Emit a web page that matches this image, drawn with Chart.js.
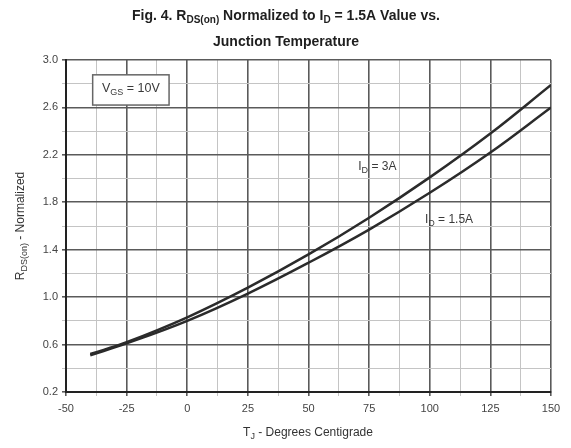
<!DOCTYPE html>
<html>
<head>
<meta charset="utf-8">
<script src="https://cdn.jsdelivr.net/npm/chart.js@4"></script>
<style>
  html, body { margin: 0; padding: 0; background: #fff; }
  #wrap { width: 571px; height: 448px; }
</style>
</head>
<body>
<div id="wrap"><canvas id="chart" width="571" height="448"></canvas></div>
<script>
// Junction temperature (deg C) and normalized RDS(on)
const temps = [-40, -25, 0, 25, 50, 75, 100, 125, 150];
const rds3A = [0.52, 0.62, 0.83, 1.08, 1.36, 1.67, 2.01, 2.38, 2.79];
const rds15A = [0.51, 0.61, 0.80, 1.03, 1.29, 1.57, 1.88, 2.22, 2.60];

// Tick labels (every other grid line is labelled)
const xLabels = ['-50', '-25', '0', '25', '50', '75', '100', '125', '150'];
const yLabels = ['0.2', '0.6', '1.0', '1.4', '1.8', '2.2', '2.6', '3.0'];

const FONT = "'Liberation Sans', Arial, sans-serif";
const INK = '#2b2b2b';
const MAJOR = '#5a5a5a';
const MINOR = '#c4c4c4';

// Draw text with subscript parts, e.g. [['R'], ['DS(on)', 1], [' - Normalized']]
function drawRich(ctx, parts, x, y, size, weight, align) {
  const subSize = Math.round(size * 0.72);
  const fontFor = sub => `${weight} ${sub ? subSize : size}px ${FONT}`;
  let total = 0;
  parts.forEach(p => {
    ctx.font = fontFor(p[1]);
    total += ctx.measureText(p[0]).width;
  });
  let cx = align === 'left' ? x : x - total / 2;
  ctx.textAlign = 'left';
  ctx.textBaseline = 'middle';
  parts.forEach(p => {
    ctx.font = fontFor(p[1]);
    ctx.fillText(p[0], cx, p[1] ? y + size * 0.3 : y);
    cx += ctx.measureText(p[0]).width;
  });
  return total;
}

const richText = {
  id: 'richText',
  afterDraw(chart) {
    const ctx = chart.ctx;
    const xs = chart.scales.x;
    const ys = chart.scales.y;
    ctx.save();

    // title
    ctx.fillStyle = '#1e1e1e';
    drawRich(ctx, [['Fig. 4. R'], ['DS(on)', 1], [' Normalized to I'], ['D', 1], [' = 1.5A Value vs.']],
      286, 16, 14, 'bold', 'center');
    drawRich(ctx, [['Junction Temperature']], 286, 42, 14, 'bold', 'center');

    // axis titles
    ctx.fillStyle = '#333';
    drawRich(ctx, [['T'], ['J', 1], [' - Degrees Centigrade']], 308, 433, 12, 'normal', 'center');
    ctx.save();
    ctx.translate(21, 226);
    ctx.rotate(-Math.PI / 2);
    drawRich(ctx, [['R'], ['DS(on)', 1], [' - Normalized']], 0, 0, 12, 'normal', 'center');
    ctx.restore();

    // VGS box
    const bx = xs.getPixelForValue(-39), by = ys.getPixelForValue(2.875);
    const bw = xs.getPixelForValue(-7.5) - bx, bh = ys.getPixelForValue(2.62) - by;
    ctx.fillStyle = '#fff';
    ctx.fillRect(bx, by, bw, bh);
    ctx.strokeStyle = '#666';
    ctx.lineWidth = 1.5;
    ctx.strokeRect(bx, by, bw, bh);
    ctx.fillStyle = '#3a3a3a';
    drawRich(ctx, [['V'], ['GS', 1], [' = 10V']], bx + bw / 2, by + bh / 2 - 1, 12.5, 'normal', 'center');

    // curve labels
    drawRich(ctx, [['I'], ['D', 1], [' = 3A']], xs.getPixelForValue(70.5), ys.getPixelForValue(2.1), 12, 'normal', 'left');
    drawRich(ctx, [['I'], ['D', 1], [' = 1.5A']], xs.getPixelForValue(98), ys.getPixelForValue(1.65), 12, 'normal', 'left');

    ctx.restore();
  }
};

const toPoints = vals => temps.map((t, i) => ({ x: t, y: vals[i] }));

new Chart(document.getElementById('chart'), {
  type: 'line',
  data: {
    datasets: [
      { label: 'ID = 3A', data: toPoints(rds3A) },
      { label: 'ID = 1.5A', data: toPoints(rds15A) }
    ]
  },
  options: {
    responsive: false,
    animation: false,
    layout: { padding: { top: 60, right: 20, left: 0, bottom: 0 } },
    elements: {
      line: { borderColor: INK, borderWidth: 2.5, tension: 0.4, fill: false },
      point: { radius: 0 }
    },
    plugins: {
      legend: { display: false },
      tooltip: { enabled: false }
    },
    scales: {
      x: {
        type: 'linear',
        min: -50,
        max: 150,
        afterFit: scale => { scale.height = 56; },
        border: { display: true, color: '#222', width: 2 },
        grid: {
          color: c => (c.index % 2 === 0 ? MAJOR : MINOR),
          lineWidth: c => (c.index % 2 === 0 ? 1.6 : 1),
          tickLength: 4
        },
        ticks: {
          stepSize: 12.5,
          autoSkip: false,
          maxRotation: 0,
          padding: 6,
          color: '#444',
          font: { family: FONT, size: 11 },
          callback: (v, i) => (i % 2 === 0 ? xLabels[i / 2] : '')
        }
      },
      y: {
        min: 0.2,
        max: 3.0,
        afterFit: scale => { scale.width = 66; },
        border: { display: true, color: '#222', width: 2 },
        grid: {
          color: c => (c.index % 2 === 0 ? MAJOR : MINOR),
          lineWidth: c => (c.index % 2 === 0 ? 1.6 : 1),
          tickLength: 4
        },
        ticks: {
          stepSize: 0.2,
          autoSkip: false,
          padding: 4,
          color: '#444',
          font: { family: FONT, size: 11 },
          callback: (v, i) => (i % 2 === 0 ? yLabels[i / 2] : '')
        }
      }
    }
  },
  plugins: [richText]
});
</script>
</body>
</html>
